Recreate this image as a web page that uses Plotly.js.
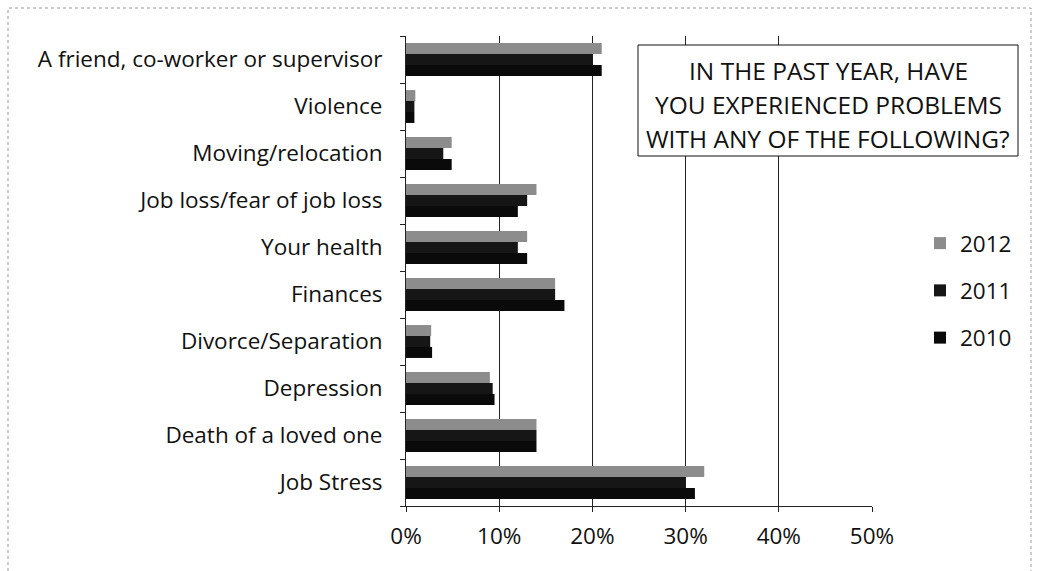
<!DOCTYPE html>
<html>
<head>
<meta charset="utf-8">
<script src="https://cdn.plot.ly/plotly-3.0.1.min.js"></script>
<style>html,body{margin:0;padding:0;background:#fff;}#chart{width:1037px;height:571px;}</style>
</head>
<body>
<div id="chart"></div>
<script>
// Categories listed bottom to top (Plotly draws the first category at the bottom)
const categories = [
  "Job Stress",
  "Death of a loved one",
  "Depression",
  "Divorce/Separation",
  "Finances",
  "Your health",
  "Job loss/fear of job loss",
  "Moving/relocation",
  "Violence",
  "A friend, co-worker or supervisor"
];
const values2012 = [0.32, 0.14, 0.090, 0.027, 0.16, 0.13, 0.14, 0.049, 0.010, 0.21];
const values2011 = [0.30, 0.14, 0.093, 0.026, 0.16, 0.12, 0.13, 0.040, 0.009, 0.20];
const values2010 = [0.31, 0.14, 0.095, 0.028, 0.17, 0.13, 0.12, 0.049, 0.009, 0.21];
const seriesNames = ["2010", "2011", "2012"];
const xTickVals = [0, 0.1, 0.2, 0.3, 0.4, 0.5];
const xTickText = ["0%", "10%", "20%", "30%", "40%", "50%"];
const titleLines = ["IN THE PAST YEAR, HAVE", "YOU EXPERIENCED PROBLEMS", "WITH ANY OF THE FOLLOWING?"];

const font = "Open Sans, DejaVu Sans, sans-serif";
const fs = 22.5;
const colors = {"2010": "#0a0a0a", "2011": "#161616", "2012": "#8c8c8c"};
const seriesValues = {"2010": values2010, "2011": values2011, "2012": values2012};
const ranks = {"2010": 3, "2011": 2, "2012": 1};

const traces = seriesNames.map(name => ({
  type: "bar",
  orientation: "h",
  name: name,
  legendgroup: name,
  legendrank: ranks[name],
  y: categories,
  x: seriesValues[name],
  marker: {color: colors[name], line: {width: 0}},
  hoverinfo: "skip"
}));

// helpers: pixel -> paper
const px = x => (x - 406) / 466;
const py = y => (506 - y) / 470;

const annotations = titleLines.map((t, i) => ({
  xref: "paper", yref: "paper",
  x: px(828), y: py([70, 104, 138][i]),
  xanchor: "center", yanchor: "middle",
  text: t, showarrow: false,
  font: {family: font, size: 24.5, color: "#111"}
}));

const layout = {
  width: 1037,
  height: 571,
  margin: {l: 406, r: 165, t: 36, b: 65},
  paper_bgcolor: "#ffffff",
  plot_bgcolor: "#ffffff",
  font: {family: font, size: fs, color: "#111"},
  barmode: "group",
  bargap: 0.3,
  bargroupgap: 0,
  showlegend: true,
  legend: {
    x: px(920), y: py(222), xanchor: "left", yanchor: "top",
    traceorder: "grouped",
    tracegroupgap: 15,
    font: {family: font, size: fs, color: "#111"},
    bgcolor: "rgba(0,0,0,0)",
    itemwidth: 30
  },
  xaxis: {
    range: [0, 0.5],
    tickvals: xTickVals,
    ticktext: xTickText,
    showgrid: true,
    gridcolor: "#222",
    gridwidth: 1,
    zeroline: false,
    showline: true,
    linecolor: "#222",
    linewidth: 1,
    ticks: "outside",
    ticklen: 5,
    tickcolor: "#222",
    ticklabelstandoff: 5,
    tickfont: {family: font, size: fs, color: "#111"},
    fixedrange: true
  },
  yaxis: {
    type: "category",
    categoryorder: "array",
    categoryarray: categories,
    showline: true,
    linecolor: "#222",
    linewidth: 1,
    ticks: "outside",
    tickson: "boundaries",
    ticklen: 5,
    tickcolor: "#222",
    ticklabelstandoff: 18,
    showgrid: false,
    tickfont: {family: font, size: fs, color: "#111"},
    fixedrange: true
  },
  annotations: annotations,
  shapes: [{
    type: "rect", xref: "paper", yref: "paper",
    x0: px(8), x1: px(1031),
    y0: py(600), y1: py(8),
    line: {color: "#9a9a9a", width: 1, dash: "dot"},
    fillcolor: "rgba(0,0,0,0)",
    layer: "below"
  }, {
    type: "rect", xref: "paper", yref: "paper",
    x0: px(638), x1: px(1018),
    y0: py(156), y1: py(45),
    line: {color: "#111", width: 1},
    fillcolor: "#ffffff",
    layer: "above"
  }]
};

Plotly.newPlot("chart", traces, layout, {displayModeBar: false, staticPlot: true});
</script>
</body>
</html>
